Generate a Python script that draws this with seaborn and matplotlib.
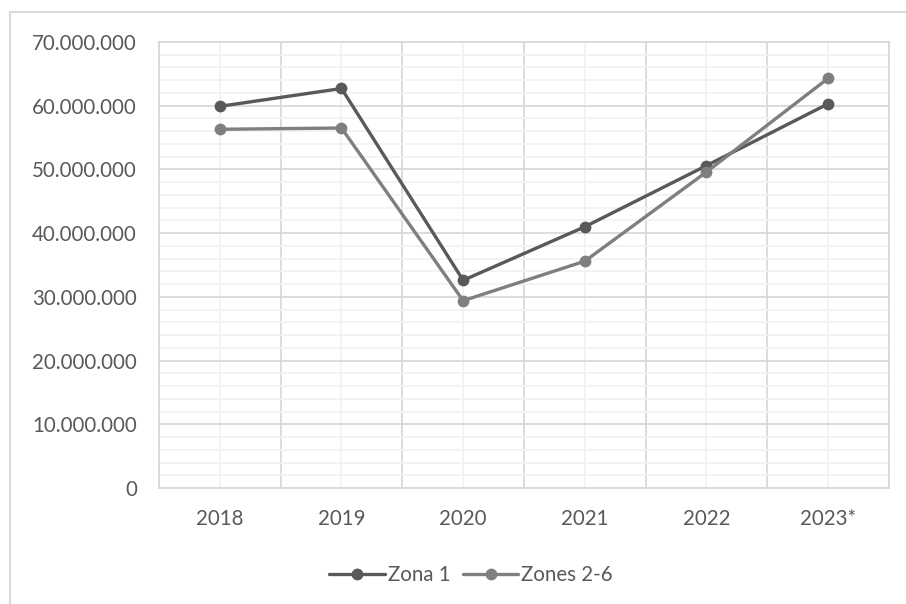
import numpy as np
import pandas as pd
import seaborn as sns
import matplotlib.pyplot as plt
from matplotlib.lines import Line2D
from matplotlib.ticker import MultipleLocator, FuncFormatter

years = ['2018', '2019', '2020', '2021', '2022', '2023*']
zona1 = [59_900_000, 62_700_000, 32_600_000, 41_000_000, 50_600_000, 60_300_000]
zones26 = [56_300_000, 56_500_000, 29_400_000, 35_600_000, 49_600_000, 64_300_000]
series_names = ['Zona 1', 'Zones 2-6']
colors = ['#595959', '#7f7f7f']

df = pd.DataFrame({
    'year': years * 2,
    'value': zona1 + zones26,
    'series': [series_names[0]] * len(years) + [series_names[1]] * len(years),
})

sns.set_style('white')
plt.rcParams['font.family'] = ['Lato', 'DejaVu Sans']
text_col = '#595959'

fig = plt.figure(figsize=(9.06, 6.04), dpi=100)
ax = fig.add_axes([0.1755, 0.192, 0.8057, 0.7385])

sns.lineplot(data=df, x='year', y='value', hue='series', palette=colors,
             marker='o', markersize=8.5, markeredgewidth=0, linewidth=2.4,
             sort=False, ax=ax, legend=False)

ax.set_xlim(-0.5, len(years) - 0.5)
ax.set_ylim(0, 70_000_000)
ax.set_xticks(range(len(years)))
ax.set_xticklabels(years)
ax.xaxis.set_minor_locator(MultipleLocator(1, offset=0.5))
ax.yaxis.set_major_locator(MultipleLocator(10_000_000))
ax.yaxis.set_minor_locator(MultipleLocator(2_000_000))
ax.yaxis.set_major_formatter(FuncFormatter(lambda v, p: f'{int(v):,}'.replace(',', '.')))

# x: category centres light, boundaries darker; y: majors darker, minors light
ax.grid(True, axis='x', which='major', color='#f2f2f2', linewidth=1.3)
ax.grid(True, axis='x', which='minor', color='#d9d9d9', linewidth=1.3)
ax.grid(True, axis='y', which='major', color='#d9d9d9', linewidth=1.3)
ax.grid(True, axis='y', which='minor', color='#f2f2f2', linewidth=1.3)
ax.set_axisbelow(True)

for s in ax.spines.values():
    s.set_color('#d9d9d9')
    s.set_linewidth(1.3)

ax.tick_params(axis='both', which='both', length=0, labelsize=14.8, labelcolor=text_col)
ax.tick_params(axis='y', pad=16)
ax.tick_params(axis='x', pad=15)
ax.set_xlabel('')
ax.set_ylabel('')

handles = [Line2D([], [], color=c, marker='o', markersize=8.5, markeredgewidth=0, linewidth=2.4)
           for c in colors]
fig.legend(handles, series_names, loc='center', bbox_to_anchor=(0.52, 0.048), ncol=2,
           frameon=False, fontsize=14.8, labelcolor=text_col, handlelength=2.7,
           handletextpad=0.15, columnspacing=0.6)

# outer chart border (left and top edges visible)
fig.add_artist(Line2D([10 / 906, 10 / 906], [0, 1 - 12 / 604], transform=fig.transFigure,
                      color='#d9d9d9', linewidth=1.5))
fig.add_artist(Line2D([10 / 906, 1], [1 - 12 / 604, 1 - 12 / 604], transform=fig.transFigure,
                      color='#d9d9d9', linewidth=1.5))

fig.savefig('out.png', dpi=100)
